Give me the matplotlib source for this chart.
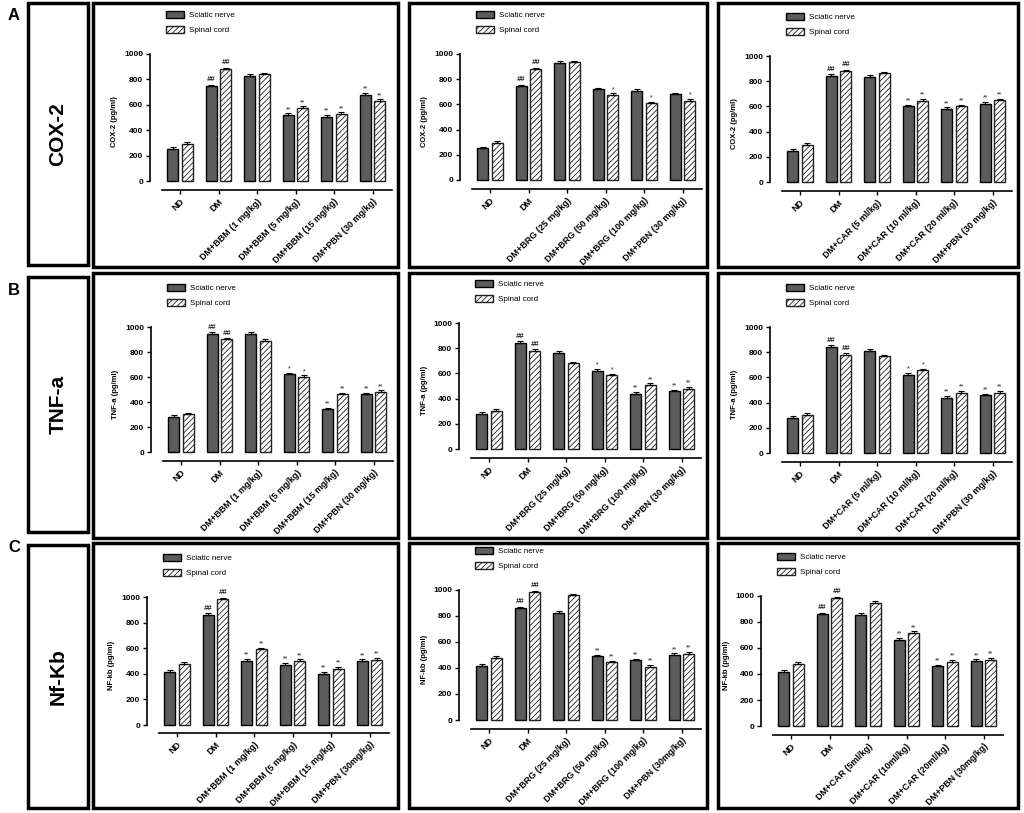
import matplotlib
matplotlib.use('Agg')
import matplotlib.pyplot as plt
import numpy as np
from matplotlib.patches import Rectangle, Patch

plt.rcParams['font.family'] = ['Liberation Sans', 'DejaVu Sans']
plt.rcParams['hatch.linewidth'] = 0.6

W, H = 1024, 813

# ---------------- data ----------------
series_labels = ['Sciatic nerve', 'Spinal cord']
row_titles = ['COX-2', 'TNF-a', 'Nf-Kb']
row_letters = ['A', 'B', 'C']
ylabels = ['COX-2 (pg/ml)', 'TNF-a (pg/ml)', 'NF-kb (pg/ml)']
yticks = [0, 200, 400, 600, 800, 1000]

cats_bbm = ['ND', 'DM', 'DM+BBM (1 mg/kg)', 'DM+BBM (5 mg/kg)', 'DM+BBM (15 mg/kg)', 'DM+PBN (30 mg/kg)']
cats_brg = ['ND', 'DM', 'DM+BRG (25 mg/kg)', 'DM+BRG (50 mg/kg)', 'DM+BRG (100 mg/kg)', 'DM+PBN (30 mg/kg)']
cats_car = ['ND', 'DM', 'DM+CAR (5 ml/kg)', 'DM+CAR (10 ml/kg)', 'DM+CAR (20 ml/kg)', 'DM+PBN (30 mg/kg)']
cats_bbm_c = ['ND', 'DM', 'DM+BBM (1 mg/kg)', 'DM+BBM (5 mg/kg)', 'DM+BBM (15 mg/kg)', 'DM+PBN (30mg/kg)']
cats_brg_c = ['ND', 'DM', 'DM+BRG (25 mg/kg)', 'DM+BRG (50 mg/kg)', 'DM+BRG (100 mg/kg)', 'DM+PBN (30mg/kg)']
cats_car_c = ['ND', 'DM', 'DM+CAR (5ml/kg)', 'DM+CAR (10ml/kg)', 'DM+CAR (20ml/kg)', 'DM+PBN (30mg/kg)']

# COX-2
cox2_bbm_sciatic = [250, 745, 830, 520, 505, 680]
cox2_bbm_spinal = [295, 880, 840, 575, 530, 630]
cox2_brg_sciatic = [250, 745, 930, 720, 710, 680]
cox2_brg_spinal = [295, 880, 935, 675, 610, 630]
cox2_car_sciatic = [250, 845, 830, 600, 580, 620]
cox2_car_spinal = [295, 880, 865, 645, 600, 650]
# TNF-a
tnf_bbm_sciatic = [280, 945, 945, 620, 340, 460]
tnf_bbm_spinal = [300, 900, 890, 600, 460, 480]
tnf_brg_sciatic = [280, 845, 765, 620, 440, 460]
tnf_brg_spinal = [300, 780, 680, 585, 510, 480]
tnf_car_sciatic = [280, 845, 810, 620, 440, 460]
tnf_car_spinal = [300, 780, 770, 655, 480, 480]
# NF-kb
nfkb_bbm_sciatic = [415, 860, 500, 470, 400, 500]
nfkb_bbm_spinal = [475, 985, 590, 500, 440, 510]
nfkb_brg_sciatic = [415, 860, 820, 490, 460, 500]
nfkb_brg_spinal = [475, 985, 960, 445, 410, 510]
nfkb_car_sciatic = [415, 860, 855, 665, 460, 500]
nfkb_car_spinal = [475, 985, 950, 715, 495, 510]

err_sciatic = [14, 12, 16, 12, 12, 12]
err_spinal = [14, 10, 10, 12, 10, 12]

# significance marks
cox2_bbm_sig = (['', '##', '', '**', '**', '**'], ['', '##', '', '**', '**', '**'])
cox2_brg_sig = (['', '##', '', '', '', ''], ['', '##', '', '*', '*', '*'])
cox2_car_sig = (['', '##', '', '**', '**', '**'], ['', '##', '', '**', '**', '**'])
tnf_bbm_sig = (['', '##', '', '*', '**', '**'], ['', '##', '', '*', '**', '**'])
tnf_brg_sig = (['', '##', '', '*', '**', '**'], ['', '##', '', '*', '**', '**'])
tnf_car_sig = (['', '##', '', '*', '**', '**'], ['', '##', '', '*', '**', '**'])
nfkb_bbm_sig = (['', '##', '**', '**', '**', '**'], ['', '##', '**', '**', '**', '**'])
nfkb_brg_sig = (['', '##', '', '**', '**', '**'], ['', '##', '', '**', '**', '**'])
nfkb_car_sig = (['', '##', '', '**', '**', '**'], ['', '##', '', '**', '**', '**'])

panels = [
    [(cats_bbm, cox2_bbm_sciatic, cox2_bbm_spinal, cox2_bbm_sig),
     (cats_brg, cox2_brg_sciatic, cox2_brg_spinal, cox2_brg_sig),
     (cats_car, cox2_car_sciatic, cox2_car_spinal, cox2_car_sig)],
    [(cats_bbm, tnf_bbm_sciatic, tnf_bbm_spinal, tnf_bbm_sig),
     (cats_brg, tnf_brg_sciatic, tnf_brg_spinal, tnf_brg_sig),
     (cats_car, tnf_car_sciatic, tnf_car_spinal, tnf_car_sig)],
    [(cats_bbm_c, nfkb_bbm_sciatic, nfkb_bbm_spinal, nfkb_bbm_sig),
     (cats_brg_c, nfkb_brg_sciatic, nfkb_brg_spinal, nfkb_brg_sig),
     (cats_car_c, nfkb_car_sciatic, nfkb_car_spinal, nfkb_car_sig)],
]

# ---------------- layout (pixels) ----------------
# (y-spine x, y of 1000, y of 0, y of x-axis line)
layout = [
    [(150, 54, 181, 190), (460, 54, 180, 189), (770, 56, 182, 191)],
    [(151, 327, 452, 461), (459, 323, 449, 458), (770, 327, 453, 462)],
    [(147, 597, 725, 733), (459, 590, 720, 729), (761, 596, 726, 735)],
]
col_boxes = [(93, 398), (409, 707), (718, 1018)]
row_boxes = [(3, 267), (273, 538), (543, 808)]
label_boxes = [(3, 265), (277, 532), (545, 808)]
letter_y = [16, 290, 548]

fig = plt.figure(figsize=(W / 100, H / 100), dpi=100)
fig.patch.set_facecolor('white')

SCI_COLOR = '#5c5c5c'
SPACING = 38.5
AX_W = 250


def draw_panel(r, c, cats, sci, spi, sig):
    sx, y1000, y0, yax = layout[r][c]
    ax = fig.add_axes([sx / W, 1 - yax / H, AX_W / W, (yax - y1000) / H])
    ax.patch.set_alpha(0)
    x = np.arange(len(cats))
    ax.set_xlim(-30 / SPACING, (AX_W - 30) / SPACING)
    ymin = -(yax - y0) / (y0 - y1000) * 1000
    ax.set_ylim(ymin, 1000)
    off, bw = 0.19, 0.29
    ax.bar(x - off, sci, bw, color=SCI_COLOR, edgecolor='black', linewidth=1.0, zorder=2)
    ax.bar(x + off, spi, bw, color='white', edgecolor='#222222', hatch='//////', linewidth=1.0, zorder=2)
    zeros = np.zeros(len(cats))
    ax.errorbar(x - off, sci, yerr=[zeros, err_sciatic], fmt='none', ecolor='black',
                elinewidth=0.8, capsize=2, capthick=0.8, zorder=3, clip_on=False)
    ax.errorbar(x + off, spi, yerr=[zeros, err_spinal], fmt='none', ecolor='black',
                elinewidth=0.8, capsize=2, capthick=0.8, zorder=3, clip_on=False)
    for xs, vals, errs, marks in ((x - off, sci, err_sciatic, sig[0]), (x + off, spi, err_spinal, sig[1])):
        for xi, v, e, m in zip(xs, vals, errs, marks):
            if not m:
                continue
            if m == '##':
                ax.text(xi, v + e + 12, m, ha='center', va='bottom', fontsize=5.5,
                        style='italic', fontweight='bold', color='#222222')
            else:
                ax.text(xi, v + e + 4, m, ha='center', va='bottom', fontsize=5,
                        color='#222222')
    for s in ('top', 'right'):
        ax.spines[s].set_visible(False)
    ax.spines['left'].set_bounds(0, 1000)
    ax.spines['bottom'].set_bounds(-0.47, 5.5)
    ax.spines['left'].set_linewidth(1.2)
    ax.spines['bottom'].set_linewidth(1.2)
    ax.set_yticks(yticks)
    ax.set_yticklabels([str(t) for t in yticks], fontsize=6, fontweight='bold')
    ax.set_xticks(x)
    ax.set_xticklabels(cats, rotation=45, ha='right', rotation_mode='anchor',
                       fontsize=6.5, fontweight='bold')
    ax.tick_params(axis='y', length=3, width=1.0, pad=2)
    ax.tick_params(axis='x', length=3, width=1.0, pad=2)
    ax.set_ylabel(ylabels[r], fontsize=5.5, fontweight='bold', labelpad=4)
    handles = [Patch(facecolor=SCI_COLOR, edgecolor='black', linewidth=1.0, label=series_labels[0]),
               Patch(facecolor='white', edgecolor='#222222', hatch='//////', linewidth=1.0,
                     label=series_labels[1])]
    ax.legend(handles=handles, loc='upper left',
              bbox_to_anchor=((sx + 16) / W, 1 - (y1000 - 43) / H),
              bbox_transform=fig.transFigure, frameon=False, fontsize=5.8,
              handlelength=2.2, handleheight=1.0, labelspacing=0.8,
              borderpad=0, borderaxespad=0, handletextpad=0.6)
    return ax


for r in range(3):
    for c in range(3):
        cats, sci, spi, sig = panels[r][c]
        draw_panel(r, c, cats, sci, spi, sig)

# panel boxes
for r, (yt, yb) in enumerate(row_boxes):
    for (xl, xr) in col_boxes:
        fig.patches.append(Rectangle((xl / W, 1 - yb / H), (xr - xl) / W, (yb - yt) / H,
                                     transform=fig.transFigure, fill=False,
                                     edgecolor='black', linewidth=2.5))
# row label boxes
for r, (yt, yb) in enumerate(label_boxes):
    fig.patches.append(Rectangle((28 / W, 1 - yb / H), 60 / W, (yb - yt) / H,
                                 transform=fig.transFigure, fill=False,
                                 edgecolor='black', linewidth=2.5))
    fig.text(58 / W, 1 - ((yt + yb) / 2) / H, row_titles[r], rotation=90,
             fontsize=15, fontweight='bold', ha='center', va='center')
    fig.text(14 / W, 1 - letter_y[r] / H, row_letters[r], fontsize=12,
             fontweight='bold', ha='center', va='center')

fig.savefig('out.png', dpi=100, facecolor='white')
